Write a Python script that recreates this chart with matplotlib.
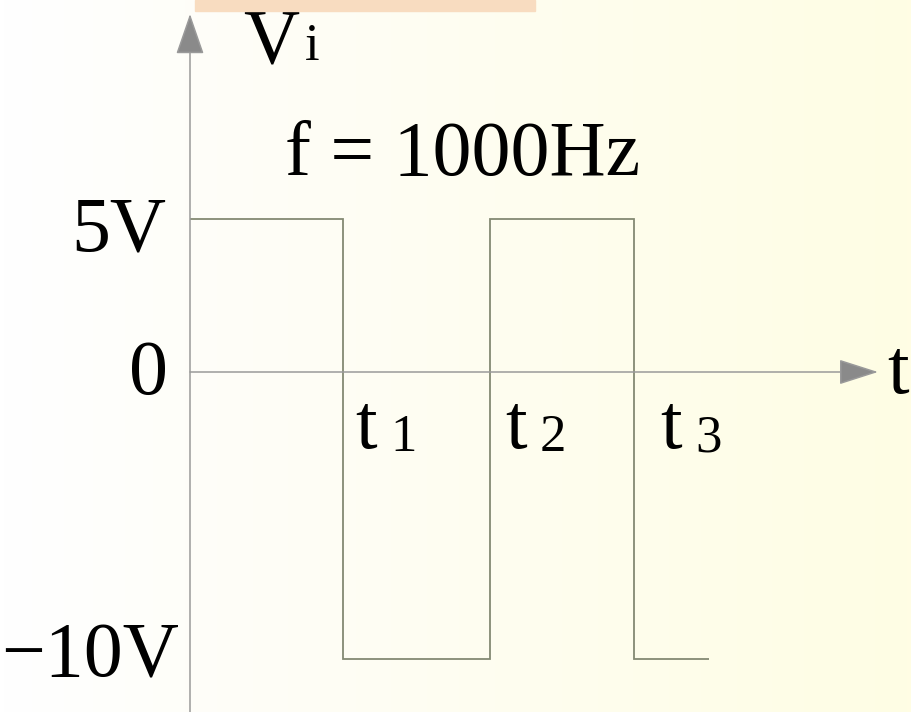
import numpy as np
import matplotlib.pyplot as plt
from matplotlib.patches import Rectangle
from matplotlib.colors import LinearSegmentedColormap

# square wave, f = 1000Hz (time in ms, as drawn)
edges = [0.0, 0.51, 1.0, 1.48, 1.73]
levels = [5, -10, 5, -10]
t_marks = ["1", "2", "3"]
level_labels = ["5V", "0", "\u221210V"]

W, H = 911, 712
PX_MS = 300.0     # pixels per ms
PX_V_NEG = 28.7   # pixels per volt below 0
PX_V_POS = 30.6   # pixels per volt above 0 (picture is not to scale)
X0, Y0 = 190, 372  # origin in pixels


def fwd(v):
    v = np.asarray(v, dtype=float)
    return np.where(v > 0, v * PX_V_POS / PX_V_NEG, v)


def inv(u):
    u = np.asarray(u, dtype=float)
    return np.where(u > 0, u * PX_V_NEG / PX_V_POS, u)


def fx(px):
    return px / W


def fy(py):
    return 1 - py / H


fig = plt.figure(figsize=(W / 100, H / 100), dpi=100)

# background gradient
bg = fig.add_axes([0, 0, 1, 1], zorder=0)
cmap = LinearSegmentedColormap.from_list("bg", [(0, "#ffffff"), (0.2, "#fefef9"), (1, "#fffde4")])
bg.imshow(np.linspace(0, 1, 256).reshape(1, -1), cmap=cmap, aspect="auto", extent=[0, 1, 0, 1])
bg.axis("off")

ax = fig.add_axes([0, 0, 1, 1], zorder=1)
ax.patch.set_alpha(0)
ax.set_yscale("function", functions=(fwd, inv))
ax.set_xlim(-X0 / PX_MS, (W - X0) / PX_MS)
ax.set_ylim(-(H - Y0) / PX_V_NEG, Y0 / PX_V_POS)
ax.axis("off")

axis_col = "#9a9a9a"
wave_col = "#848973"

# axes with arrows
top_v = inv((Y0 - 14) / PX_V_NEG)
ax.annotate("", xy=(0, float(top_v)), xytext=(0, -(H - Y0) / PX_V_NEG),
            arrowprops=dict(arrowstyle="-|>,head_length=2.6,head_width=0.9", mutation_scale=10,
                            color=axis_col, fc="#8a8a8a", lw=1.1, shrinkA=0, shrinkB=0))
ax.annotate("", xy=((878 - X0) / PX_MS, 0), xytext=(0, 0),
            arrowprops=dict(arrowstyle="-|>,head_length=2.5,head_width=0.8", mutation_scale=10,
                            color=axis_col, fc="#8a8a8a", lw=1.1, shrinkA=0, shrinkB=0))

# the waveform
ax.stairs(levels, edges, baseline=None, color=wave_col, lw=1.3)

font = "Liberation Serif"
big = 56
small = 38

fig.text(fx(166), fy(250), level_labels[0], ha="right", va="baseline", family=font, size=big)
fig.text(fx(168), fy(394), level_labels[1], ha="right", va="baseline", family=font, size=big)
fig.text(fx(179), fy(676), level_labels[2], ha="right", va="baseline", family=font, size=big)

fig.text(fx(243), fy(63), "V", ha="left", va="baseline", family=font, size=big)
fig.text(fx(305), fy(60), "i", ha="left", va="baseline", family=font, size=small)
fig.text(fx(285), fy(175), "f = 1000Hz", ha="left", va="baseline", family=font, size=big)
fig.text(fx(887), fy(393), "t", ha="left", va="baseline", family=font, size=big)

t_pos = [355, 505, 660]
for x, m in zip(t_pos, t_marks):
    fig.text(fx(x), fy(448), "t", ha="left", va="baseline", family=font, size=big)
    fig.text(fx(x + 35), fy(451), m, ha="left", va="baseline", family=font, size=small)

# peach strip at the top
fig.patches.append(Rectangle((fx(195), fy(11)), fx(535) - fx(195), fy(0) - fy(11),
                             transform=fig.transFigure, color="#f8dcc0", zorder=5))

fig.savefig("out.png", dpi=100)
